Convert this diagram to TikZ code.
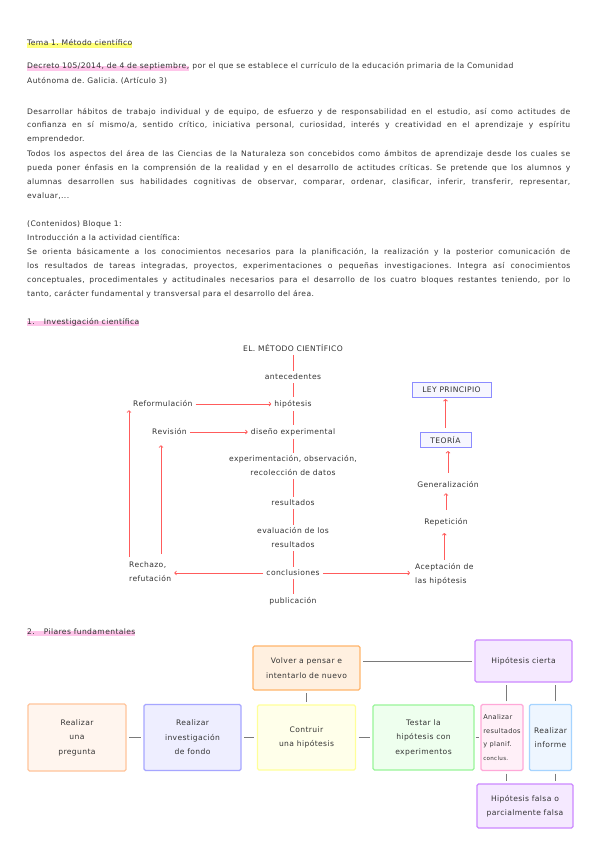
\documentclass[tikz,border=0pt]{standalone}
\usepackage{fontspec}
\setmainfont{DejaVu Sans}[LetterSpace=5]
\usetikzlibrary{positioning,arrows.meta,shadows}

\definecolor{inkc}{HTML}{333333}
\definecolor{redc}{HTML}{FF5C5C}
\definecolor{hlyellow}{HTML}{FFFF7A}
\definecolor{hlpink}{HTML}{FFC6EA}
\definecolor{linegray}{HTML}{7A7A7A}
\definecolor{lawblue}{HTML}{8C8CFF}
\definecolor{lawfill}{HTML}{F6F6FF}
\definecolor{orgline}{HTML}{FFB56B}
\definecolor{orgfill}{HTML}{FFF0E0}
\definecolor{pregline}{HTML}{FFC49A}
\definecolor{pregfill}{HTML}{FFF5EE}
\definecolor{invline}{HTML}{A6A6FF}
\definecolor{invfill}{HTML}{EEEEFF}
\definecolor{hipline}{HTML}{FFFF99}
\definecolor{hipfill}{HTML}{FFFFEA}
\definecolor{tstline}{HTML}{99F599}
\definecolor{tstfill}{HTML}{EEFFEE}
\definecolor{anline}{HTML}{FFA8D8}
\definecolor{anfill}{HTML}{FFF0F8}
\definecolor{infline}{HTML}{A6D4FF}
\definecolor{inffill}{HTML}{EEF6FF}
\definecolor{purline}{HTML}{CC88FF}
\definecolor{purfill}{HTML}{F5E9FF}

\newcommand{\jline}[1]{\makebox[543pt][s]{#1}}

\tikzset{
  txt/.style={anchor=base west, inner sep=0pt, text=inkc},
  hl/.style={txt, fill=#1, text height=2.6pt, text depth=2pt},
  mtxt/.style={align=center, inner sep=1pt, text=inkc, font=\fontsize{7.6}{14}\selectfont},
  redline/.style={draw=redc, line width=0.8pt, shorten >=2pt, shorten <=2pt},
  redarr/.style={redline, -{To[length=2.5pt,width=4.5pt]}},
  lawbox/.style={draw=lawblue, fill=lawfill, line width=1pt, inner sep=2pt,
    minimum height=15pt, text=inkc,
    drop shadow={opacity=0.25, shadow xshift=0.8pt, shadow yshift=-0.8pt}},
  pbox/.style={line width=1.1pt, rounded corners=1.5pt, align=center, inner sep=1pt,
    text=inkc, font=\fontsize{7.6}{14.5}\selectfont},
  gline/.style={draw=linegray, line width=1pt, shorten >=2.5pt, shorten <=2.5pt}
}

\begin{document}
\frenchspacing
\begin{tikzpicture}[x=1pt,y=-1pt,font=\fontsize{7.6}{9}\selectfont]
\useasboundingbox (0,0) rectangle (599,848);
\fill[white] (0,0) rectangle (599,848);

% encabezado
\node[hl=hlyellow] (tema) at (27,46) {Tema 1. Método científico};
\node[hl=hlpink] (decreto) at (27,69) {Decreto 105/2014, de 4 de septiembre,};
\node[txt] (decreto2) at (decreto.base east) {\ por el que se establece el currículo de la educación primaria de la Comunidad};
\node[txt] (autonoma) at (27,84) {Autónoma de. Galicia. (Artículo 3)};

% objetivos
\node[txt] (obj1) at (27,114) {\jline{Desarrollar hábitos de trabajo individual y de equipo, de esfuerzo y de responsabilidad en el estudio, así como actitudes de}};
\node[txt] (obj2) at (27,128) {\jline{confianza en sí mismo/a, sentido crítico, iniciativa personal, curiosidad, interés y creatividad en el aprendizaje y espíritu}};
\node[txt] (obj3) at (27,142) {emprendedor.};
\node[txt] (obj4) at (27,156) {\jline{Todos los aspectos del área de las Ciencias de la Naturaleza son concebidos como ámbitos de aprendizaje desde los cuales se}};
\node[txt] (obj5) at (27,170) {\jline{pueda poner énfasis en la comprensión de la realidad y en el desarrollo de actitudes críticas. Se pretende que los alumnos y}};
\node[txt] (obj6) at (27,184) {\jline{alumnas desarrollen sus habilidades cognitivas de observar, comparar, ordenar, clasificar, inferir, transferir, representar,}};
\node[txt] (obj7) at (27,198) {evaluar,...};

% contenidos
\node[txt] (cont1) at (27,226) {(Contenidos) Bloque 1:};
\node[txt] (cont2) at (27,240) {Introducción a la actividad científica:};
\node[txt] (cont3) at (27,254) {\jline{Se orienta básicamente a los conocimientos necesarios para la planificación, la realización y la posterior comunicación de}};
\node[txt] (cont4) at (27,268) {\jline{los resultados de tareas integradas, proyectos, experimentaciones o pequeñas investigaciones. Integra así conocimientos}};
\node[txt] (cont5) at (27,282) {\jline{conceptuales, procedimentales y actitudinales necesarios para el desarrollo de los cuatro bloques restantes teniendo, por lo}};
\node[txt] (cont6) at (27,296) {tanto, carácter fundamental y transversal para el desarrollo del área.};

% 1. metodo cientifico
\node[hl=hlpink] (sec1) at (27,324) {1.\hspace{9pt}Investigación científica};

\node[mtxt] (titulo) at (293,348) {EL. MÉTODO CIENTÍFICO};
\node[mtxt] (antec) at (293,377) {antecedentes};
\node[mtxt] (hip) at (293,404) {hipótesis};
\node[mtxt] (diseno) at (293,432) {diseño experimental};
\node[mtxt] (exper) at (293,466) {experimentación, observación,\\recolección de datos};
\node[mtxt] (result) at (293,503) {resultados};
\node[mtxt] (evalua) at (293,538) {evaluación de los\\resultados};
\node[mtxt] (concl) at (293,573) {conclusiones};
\node[mtxt] (publ) at (293,601) {publicación};

\foreach \a/\b in {titulo/antec, antec/hip, hip/diseno, diseno/exper,
  exper/result, result/evalua, evalua/concl, concl/publ}
  \draw[redline] (\a) -- (\b);

\node[mtxt, anchor=west] (reform) at (132,404) {Reformulación};
\node[mtxt, anchor=west] (revis) at (151,432) {Revisión};
\node[mtxt, anchor=west, align=left] (rech) at (128,572) {Rechazo,\\refutación};
\draw[redarr] (reform) -- (hip);
\draw[redarr] (revis) -- (diseno);

\coordinate (rechfoot) at (129,559);
\coordinate (revfoot) at (161,556);
\draw[redarr] (rechfoot) -- (rechfoot |- reform.south);
\draw[redarr, shorten >=9pt] (revfoot) -- (revfoot |- revis.south);
\draw[redarr] (concl) -- (concl -| rech.east);

\node[mtxt, anchor=west, align=left] (acep) at (414,574) {Aceptación de\\las hipótesis};
\node[mtxt] (repet) at (446,522) {Repetición};
\node[mtxt] (gener) at (448,485) {Generalización};
\node[lawbox, minimum width=51pt] (teoria) at (445.5,440) {TEORÍA};
\node[lawbox, minimum width=79pt] (ley) at (451.5,390) {LEY PRINCIPIO};

\draw[redarr, shorten >=4pt] (concl) -- (concl -| acep.west);
\draw[redarr, shorten >=6pt] (acep.north) -- (acep.north |- repet.south);
\draw[redarr, shorten <=7pt, shorten >=4pt] (repet.north) -- (repet.north |- gener.south);
\draw[redarr, shorten <=8pt, shorten >=3pt] (gener.north) -- (gener.north |- teoria.south);
\draw[redarr, shorten <=4pt, shorten >=1pt] (teoria.north) -- (teoria.north |- ley.south);

% 2. pilares
\node[hl=hlpink] (sec2) at (27,634) {2.\hspace{9pt}Pilares fundamentales};

\node[pbox, draw=orgline, fill=orgfill, minimum width=107pt, minimum height=44pt] (volver) at (306.5,668) {Volver a pensar e\\intentarlo de nuevo};
\node[pbox, draw=pregline, fill=pregfill, minimum width=98pt, minimum height=67pt] (preg) at (77,737.5) {Realizar\\una\\pregunta};
\node[pbox, draw=invline, fill=invfill, minimum width=97pt, minimum height=66pt] (inv) at (192.5,737.5) {Realizar\\investigación\\de fondo};
\node[pbox, draw=hipline, fill=hipfill, minimum width=98pt, minimum height=65pt] (hipo) at (306.5,737.5) {Contruir\\una hipótesis};
\node[pbox, draw=tstline, fill=tstfill, minimum width=101pt, minimum height=65pt] (testar) at (423.5,737.5) {Testar la\\hipótesis con\\experimentos};
\node[pbox, draw=anline, fill=anfill, minimum width=42pt, minimum height=66pt, align=left,
  font=\fontsize{6.6}{13.5}\selectfont] (analiz) at (502,737.5) {Analizar\\resultados\\y planif.\\{\fontsize{5.6}{13.5}\selectfont conclus.}};
\node[pbox, draw=infline, fill=inffill, minimum width=42pt, minimum height=66pt] (inform) at (550.5,737.5) {Realizar\\informe};
\node[pbox, draw=purline, fill=purfill, minimum width=97pt, minimum height=42pt] (cierta) at (523.5,661) {Hipótesis cierta};
\node[pbox, draw=purline, fill=purfill, minimum width=96pt, minimum height=44pt] (falsa) at (525,806) {Hipótesis falsa o\\parcialmente falsa};

\draw[gline] (preg) -- (inv);
\draw[gline] (inv) -- (hipo);
\draw[gline] (hipo) -- (testar);
\draw[gline, shorten >=1pt, shorten <=1pt] (testar) -- (analiz);
\draw[gline] (volver) -- (hipo);
\draw[gline] (volver.east |- cierta.west) -- (cierta.west);

\coordinate (antop) at ([xshift=4pt]analiz.north);
\coordinate (anbot) at ([xshift=4pt]analiz.south);
\coordinate (inftop) at ([xshift=4.5pt]inform.north);
\coordinate (infbot) at ([xshift=4.5pt]inform.south);
\draw[gline] (antop) -- (antop |- cierta.south);
\draw[gline] (inftop) -- (inftop |- cierta.south);
\draw[gline] (anbot) -- (anbot |- falsa.north);
\draw[gline] (infbot) -- (infbot |- falsa.north);

\end{tikzpicture}
\end{document}
